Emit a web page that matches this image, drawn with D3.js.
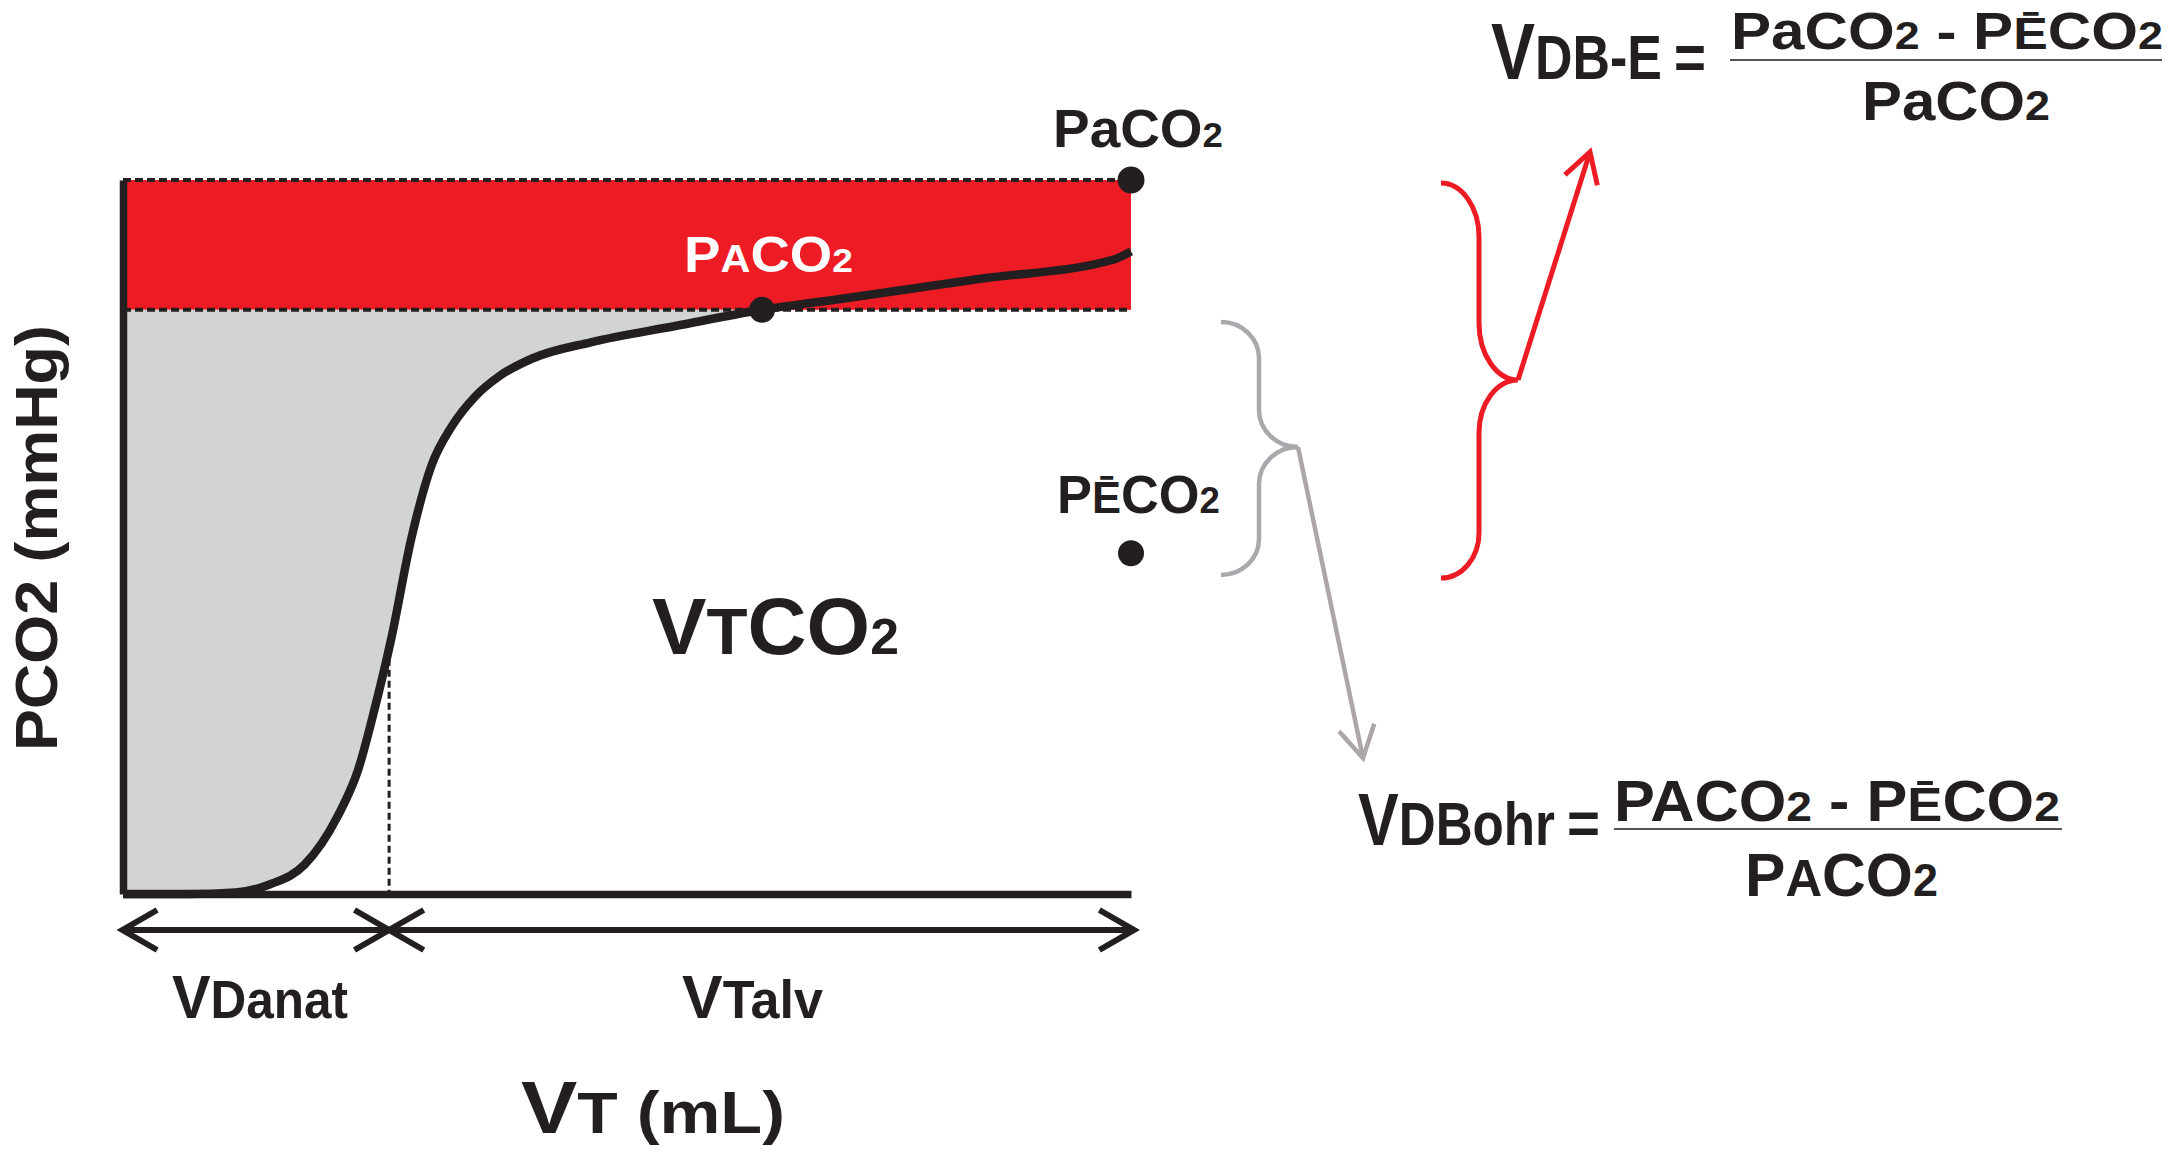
<!DOCTYPE html>
<html><head><meta charset="utf-8">
<script src="https://cdn.jsdelivr.net/npm/d3@7"></script>
<style>
html,body{margin:0;padding:0;background:#fff;}
svg{display:block;}
text{font-family:"Liberation Sans",Arial,sans-serif;font-weight:bold;white-space:pre;}
</style>
</head><body>
<svg id="c" width="2167" height="1150"></svg>
<script>
// ---- data (volume in mL, partial pressure in mmHg) ----
const vtML  = [0, 32, 56, 73, 90, 106.5, 116.5, 125, 133, 143, 153, 163, 175, 186.5, 203, 232, 274, 317, 357.5, 424.5, 491.5, 500];
const pco2  = [0, 0, 0.1, 0.6, 1.8, 4.8, 7.6, 11.5, 15.7, 21.9, 26.4, 28.8, 30.7, 31.9, 33.0, 34.0, 35.0, 36.0, 36.7, 37.9, 39.1, 39.6];
const PaCO2 = 44;       // arterial
const PACO2 = 36;       // mean alveolar
const PECO2 = 21;       // mixed expired
const VT_TOTAL = 500;
const VD_ANAT = 132;
const VT_AT_PACO2 = 317;

// ---- labels ----
const lblPa   = [["PaCO",54],["2",36]];
const lblPE   = [["P",53],["\u0112",44],["CO",53],["2",37]];
const lblPA   = [["P",50],["A",38],["CO",50],["2",34]];
const lblVtco = [["V",79],["T",65],["CO",79],["2",50]];
const lblY    = [["PCO2 (mmHg)",60]];
const lblVd   = [["V",62],["Danat",53]];
const lblVta  = [["V",62],["Talv",53]];
const lblX    = [["V",74],["T",58],[" (mL)",60]];
const f1Left  = [["V",80],["DB-E",63]];
const f1Num   = [["PaCO",51],["2",38],[" - ",51],["P",51],["\u0112",44],["CO",51],["2",38]];
const f1Den   = [["PaCO",56],["2",42]];
const f2Left  = [["V",74],["DBohr",62]];
const f2Num   = [["PACO",57],["2",43],[" - ",57],["P",57],["\u0112",49],["CO",57],["2",43]];
const f2Den   = [["P",62],["A",52],["CO",62],["2",46]];

const INK = "#231f20", RED = "#ed1c24", GRAYFILL = "#d1d3d4", GRAYLINE = "#a7a9ac", GRAYARROW = "#aca6a6";

const svg = d3.select("#c");
const x = d3.scaleLinear().domain([0, VT_TOTAL]).range([123, 1131]);
const y = d3.scaleLinear().domain([0, PaCO2]).range([894, 180]);

const pts = vtML.map((v,i)=>({v, p:pco2[i]}));

// red band between PACO2 and PaCO2
svg.append("rect").attr("x", x(0)).attr("y", y(PaCO2))
  .attr("width", x(VT_TOTAL)-x(0)).attr("height", y(PACO2)-y(PaCO2)).attr("fill", RED);

// grey dead-space area
const area = d3.area().x(d=>x(d.v)).y0(y(PACO2)).y1(d=>y(d.p)).curve(d3.curveMonotoneX);
svg.append("path").datum(pts.filter(d=>d.v<=VT_AT_PACO2)).attr("d", area).attr("fill", GRAYFILL);

// dashed horizontal lines
[PaCO2, PACO2].forEach(val=>{
  svg.append("line").attr("x1", x(0)).attr("x2", x(VT_TOTAL)).attr("y1", y(val)).attr("y2", y(val))
    .attr("stroke", INK).attr("stroke-width", 4).attr("stroke-dasharray", "8,4");
});

// vertical dashed at VDanat
const i1 = d3.bisectRight(vtML, VD_ANAT);
const t = (VD_ANAT - vtML[i1-1])/(vtML[i1]-vtML[i1-1]);
const pAt = pco2[i1-1] + t*(pco2[i1]-pco2[i1-1]);
svg.append("line").attr("x1", x(VD_ANAT)).attr("x2", x(VD_ANAT)).attr("y1", y(pAt)).attr("y2", y(0))
  .attr("stroke", INK).attr("stroke-width", 3).attr("stroke-dasharray", "7,4");

// axes (no ticks)
const gx = svg.append("g").attr("transform", `translate(0,${y(0)})`)
  .call(d3.axisBottom(x).tickValues([]).tickSizeOuter(0));
const gy = svg.append("g").attr("transform", `translate(${x(0)},0)`)
  .call(d3.axisLeft(y).tickValues([]).tickSizeOuter(0));
[gx, gy].forEach(g=>g.select(".domain").attr("stroke", INK).attr("stroke-width", 7.5));

// capnogram curve
const line = d3.line().x(d=>x(d.v)).y(d=>y(d.p)).curve(d3.curveMonotoneX);
svg.append("path").datum(pts).attr("d", line).attr("fill","none")
  .attr("stroke", INK).attr("stroke-width", 8.5).attr("stroke-linejoin","round");

// dots
[[VT_TOTAL, PaCO2, 13.5],[VT_AT_PACO2, PACO2, 13],[VT_TOTAL, PECO2, 13]].forEach(([v,p,r])=>{
  svg.append("circle").attr("cx", x(v)).attr("cy", y(p)).attr("r", r).attr("fill", INK);
});

// rich text helper: fit to a measured width with a horizontal scale
function rich(parent, x0, yb, width, parts, fill){
  const g = parent.append("g");
  const tx = g.append("text").attr("x", 0).attr("y", 0).attr("fill", fill||INK);
  parts.forEach(([s,fs])=>tx.append("tspan").attr("font-size", fs).text(s));
  const nat = tx.node().getComputedTextLength();
  const sx = nat>0 ? width/nat : 1;
  g.attr("transform", `translate(${x0},${yb}) scale(${sx},1)`);
  return g;
}

// arrows
function arrow(p0, p1, color, sw, L, ang, both){
  const g = svg.append("g").attr("stroke", color).attr("stroke-width", sw).attr("fill","none")
    .attr("stroke-linejoin","miter").attr("stroke-linecap","butt");
  g.append("line").attr("x1",p0[0]).attr("y1",p0[1]).attr("x2",p1[0]).attr("y2",p1[1]);
  const head = (a,b)=>{
    const dx=b[0]-a[0], dy=b[1]-a[1], len=Math.hypot(dx,dy), ux=dx/len, uy=dy/len;
    const w = s=>{const c=Math.cos(s*ang), sn=Math.sin(s*ang);
      return [b[0]-L*(ux*c - uy*sn), b[1]-L*(ux*sn + uy*c)];};
    const w1=w(1), w2=w(-1);
    g.append("path").attr("d", `M${w1[0]},${w1[1]}L${b[0]},${b[1]}L${w2[0]},${w2[1]}`);
  };
  head(p0,p1);
  if(both) head(p1,p0);
}
const deg = Math.PI/180;
const yArr = 930;
arrow([x(0)-0.5, yArr], [x(VD_ANAT), yArr], INK, 6, 40, 30*deg, true);
arrow([x(VD_ANAT), yArr], [x(VT_TOTAL)+3, yArr], INK, 6, 40, 30*deg, true);

// braces
function brace(x0, xv, xt, yt, ym, yb, r1, r2, r3, r4, color, sw){
  const k=0.55;
  const d = `M${x0},${yt} C${x0+k*(xv-x0)},${yt} ${xv},${yt+r1-k*r1} ${xv},${yt+r1}`
    + ` L${xv},${ym-r2} C${xv},${ym-r2+k*r2} ${xt-k*(xt-xv)},${ym} ${xt},${ym}`
    + ` C${xt-k*(xt-xv)},${ym} ${xv},${ym+r3-k*r3} ${xv},${ym+r3}`
    + ` L${xv},${yb-r4} C${xv},${yb-r4+k*r4} ${x0+k*(xv-x0)},${yb} ${x0},${yb}`;
  svg.append("path").attr("d", d).attr("fill","none").attr("stroke", color).attr("stroke-width", sw);
}
brace(1221, 1259, 1298, 322, 447, 575, 36, 37, 37, 36, GRAYLINE, 4.5);
brace(1441, 1479, 1518, 183, 380, 578, 54, 57, 53, 45, RED, 5);
arrow([1298,447],[1363,758], GRAYARROW, 4.5, 36, 30*deg, false);
arrow([1518,380],[1590,152], RED, 5, 34, 30*deg, false);

// texts in plot
rich(svg, 1053, 147, 170, lblPa);
rich(svg, 1057, 513, 163, lblPE);
rich(svg, 684, 272, 169, lblPA, "#fff");
rich(svg, 652, 654, 247, lblVtco);
rich(svg, 172, 1018, 176, lblVd);
rich(svg, 682, 1018, 141, lblVta);
rich(svg, 521, 1133, 264, lblX);
const gyl = svg.append("g").attr("transform", "translate(57,538) rotate(-90)");
rich(gyl, -213, 0, 426, lblY);

// formula 1 (Bohr-Enghoff)
rich(svg, 1491, 79, 171, f1Left);
rich(svg, 1674, 79, 32, [["=",63]]);
rich(svg, 1731, 49, 432, f1Num);
svg.append("line").attr("x1",1730).attr("x2",2162).attr("y1",60).attr("y2",60).attr("stroke","#555").attr("stroke-width",2);
rich(svg, 1862, 120, 188, f1Den);

// formula 2 (Bohr)
rich(svg, 1358, 845, 197, f2Left);
rich(svg, 1567, 843, 33, [["=",60]]);
rich(svg, 1614, 821, 446, f2Num);
svg.append("line").attr("x1",1614).attr("x2",2062).attr("y1",829).attr("y2",829).attr("stroke","#555").attr("stroke-width",2);
rich(svg, 1745, 896, 193, f2Den);
</script>
</body></html>
